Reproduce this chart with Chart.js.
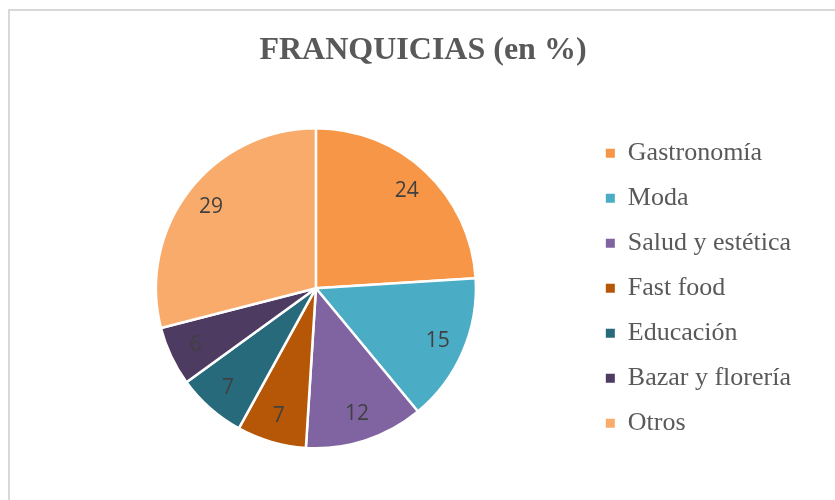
<!DOCTYPE html>
<html>
<head>
<meta charset="utf-8">
<script src="https://cdn.jsdelivr.net/npm/chart.js@4.4.1/dist/chart.umd.min.js"></script>
<style>
  html, body { margin: 0; padding: 0; background: #fff; }
  #marco {
    position: absolute; left: 8px; top: 9px; width: 900px; height: 600px;
    border-left: 2px solid #d9d9d9; border-top: 2px solid #d9d9d9;
  }
  #wrap { position: absolute; left: 0; top: 0; width: 835px; height: 500px; }
</style>
</head>
<body>
<div id="marco"></div>
<div id="wrap"><canvas id="graficoFranquicias"></canvas></div>
<script>
const categorias = ["Gastronomía", "Moda", "Salud y estética", "Fast food", "Educación", "Bazar y florería", "Otros"];
const porcentajes = [24, 15, 12, 7, 7, 6, 29];
const colores = ["#F79646", "#4BACC6", "#8064A2", "#B65708", "#276A7C", "#4D3B62", "#F9AB6B"];

// etiquetas de valor dentro de cada porción
const etiquetasValor = {
  id: "etiquetasValor",
  afterDatasetsDraw(chart) {
    const ctx = chart.ctx;
    const meta = chart.getDatasetMeta(0);
    ctx.save();
    ctx.font = "21px 'Open Sans'";
    ctx.fillStyle = "#404040";
    ctx.textAlign = "center";
    ctx.textBaseline = "middle";
    meta.data.forEach((arc, i) => {
      const p = arc.getProps(["x", "y", "startAngle", "endAngle", "outerRadius"], true);
      const mid = (p.startAngle + p.endAngle) / 2;
      const r = p.outerRadius * 0.83;
      ctx.fillText(porcentajes[i], p.x + Math.cos(mid) * r, p.y + Math.sin(mid) * r);
    });
    ctx.restore();
  }
};

new Chart(document.getElementById("graficoFranquicias"), {
  type: "pie",
  data: {
    labels: categorias,
    datasets: [{
      data: porcentajes,
      backgroundColor: colores,
      borderColor: "#fff",
      borderWidth: 2.5,
      radius: "95.5%"
    }]
  },
  options: {
    responsive: true,
    maintainAspectRatio: false,
    animation: false,
    layout: { padding: { left: 45, right: 34, top: 0, bottom: 43 } },
    plugins: {
      tooltip: { enabled: false },
      title: {
        display: true,
        text: "FRANQUICIAS (en %)",
        color: "#595959",
        font: { family: "'Liberation Serif'", size: 32, weight: "bold" },
        padding: { top: 32, bottom: 49 }
      },
      legend: {
        position: "right",
        fullSize: false,
        labels: {
          color: "#595959",
          font: { family: "'Liberation Serif'", size: 26 },
          boxWidth: 9,
          boxHeight: 9,
          padding: 19,
          generateLabels(chart) {
            const items = Chart.overrides.pie.plugins.legend.labels.generateLabels(chart);
            items.forEach(it => { it.lineWidth = 0; it.strokeStyle = "transparent"; });
            return items;
          }
        }
      }
    }
  },
  plugins: [etiquetasValor]
});
</script>
</body>
</html>
